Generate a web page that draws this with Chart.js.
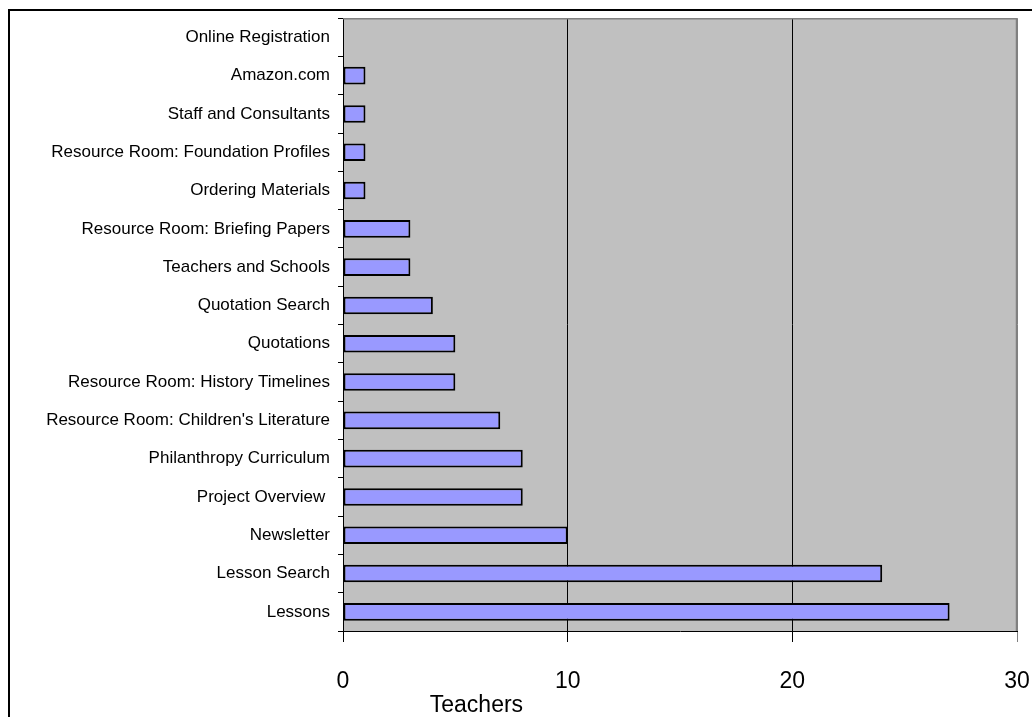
<!DOCTYPE html>
<html>
<head>
<meta charset="utf-8">
<script src="https://cdn.jsdelivr.net/npm/chart.js@4"></script>
<style>
  html, body { margin: 0; padding: 0; background: #fff; overflow: hidden; }
  #wrap { position: relative; width: 1032px; height: 717px; }
  #frame { position: absolute; left: 8px; top: 9px; width: 1100px; height: 800px; border: 2px solid #000; }
  canvas { position: absolute; left: 0; top: 0; }
</style>
</head>
<body>
<div id="wrap">
  <div id="frame"></div>
  <canvas id="pagesChart" width="1032" height="717"></canvas>
</div>
<script>
const pages = ['Online Registration', 'Amazon.com', 'Staff and Consultants', 'Resource Room: Foundation Profiles',
    'Ordering Materials', 'Resource Room: Briefing Papers', 'Teachers and Schools', 'Quotation Search',
    'Quotations', 'Resource Room: History Timelines', "Resource Room: Children's Literature",
    'Philanthropy Curriculum', 'Project Overview ', 'Newsletter', 'Lesson Search', 'Lessons'];
const teachers = [0, 1, 1, 1, 1, 3, 3, 4, 5, 5, 7, 8, 8, 10, 24, 27];
const xTicks = [0, 10, 20, 30];
const xTitle = 'Teachers';

// grey plot area, grey top/right edge, and the off-centre axis title
const plotBg = {
    id: 'plotBg',
    beforeDraw(chart) {
        const a = chart.chartArea, c = chart.ctx;
        c.save();
        c.fillStyle = '#c0c0c0';
        c.fillRect(a.left, a.top, a.right - a.left, a.bottom - a.top);
        c.restore();
    },
    afterDraw(chart) {
        const a = chart.chartArea, c = chart.ctx;
        c.save();
        c.strokeStyle = '#808080';
        c.lineWidth = 1.5;
        c.beginPath();
        c.moveTo(a.left, a.top + 0.5);
        c.lineTo(a.right - 0.5, a.top + 0.5);
        c.lineTo(a.right - 0.5, a.bottom);
        c.stroke();
        c.fillStyle = '#000';
        c.font = '23px "Liberation Sans"';
        c.textAlign = 'center';
        c.textBaseline = 'middle';
        c.fillText(xTitle, a.left + (a.right - a.left) * 0.198, 706);
        c.restore();
    }
};

new Chart(document.getElementById('pagesChart').getContext('2d'), {
    type: 'bar',
    data: {
        labels: pages,
        datasets: [{
            data: teachers,
            backgroundColor: '#9999ff',
            borderColor: '#000',
            borderWidth: 2,
            borderSkipped: false,
            barPercentage: 0.46,
            categoryPercentage: 1
        }]
    },
    options: {
        indexAxis: 'y',
        responsive: false,
        animation: false,
        layout: { padding: { top: 17, right: 15, left: 0, bottom: 0 } },
        plugins: { legend: { display: false }, tooltip: { enabled: false } },
        scales: {
            y: {
                offset: true,
                afterFit(scale) { scale.width = 343; },
                grid: { offset: true, drawOnChartArea: false, color: '#000', tickLength: 5 },
                border: { color: '#000', width: 1 },
                ticks: { color: '#000', padding: 8, font: { family: 'Liberation Sans', size: 17 } }
            },
            x: {
                min: 0,
                max: 30,
                afterFit(scale) {
                    scale.height = 86;
                    scale.paddingLeft = 0;
                    scale.paddingRight = 0;
                },
                afterBuildTicks(scale) { scale.ticks = xTicks.map(v => ({ value: v })); },
                grid: {
                    color: ctx => (ctx.tick && ctx.tick.value === 30) ? '#808080' : '#000',
                    tickLength: 11
                },
                border: { color: '#000', width: 1 },
                ticks: { color: '#000', padding: 26, font: { family: 'Liberation Sans', size: 23 } }
            }
        }
    },
    plugins: [plotBg]
});
</script>
</body>
</html>
